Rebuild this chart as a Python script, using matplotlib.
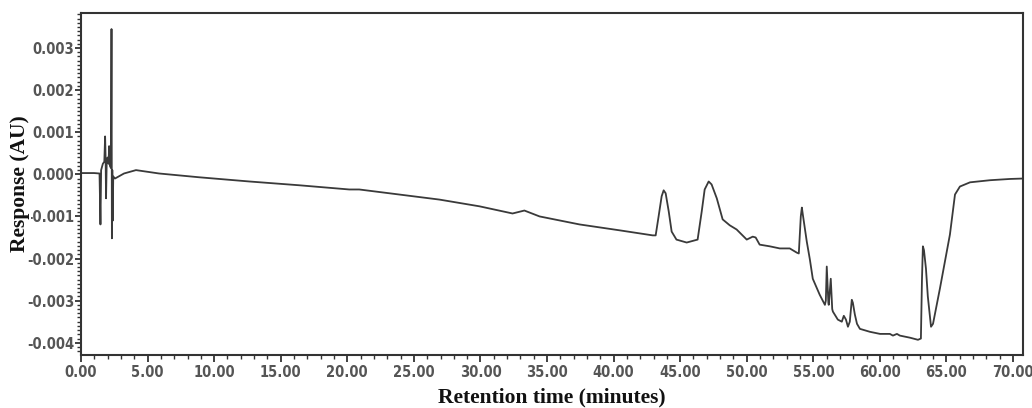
import matplotlib
matplotlib.use("Agg")
import matplotlib.pyplot as plt
from matplotlib.ticker import MultipleLocator, FormatStrFormatter

plt.rcParams["axes.unicode_minus"] = False

# Chromatogram trace: retention time (min) and detector response (x 1e-3 AU)
time_min = [
    0.00, 0.98, 1.39, 1.46, 1.51, 1.64, 1.75, 1.81, 1.85, 1.88, 1.93, 2.00,
    2.07, 2.11, 2.17, 2.25, 2.29, 2.32, 2.35, 2.38, 2.42, 2.55, 3.23, 4.13,
    5.86, 8.87, 12.64, 16.39, 20.15, 20.90, 23.91, 26.92, 29.93, 32.41, 33.30,
    34.44, 37.44, 40.45, 42.94, 43.16, 43.38, 43.61, 43.76, 43.91, 44.14,
    44.36, 44.72, 45.49, 46.31, 46.62, 46.84, 47.14, 47.36, 47.75, 48.19,
    48.72, 49.24, 50.00, 50.45, 50.67, 50.97, 51.73, 52.48, 53.23, 53.76,
    53.91, 54.06, 54.14, 54.21, 54.51, 54.74, 54.96, 55.48, 55.87, 55.94,
    56.01, 56.13, 56.16, 56.31, 56.42, 56.47, 56.84, 57.14, 57.29, 57.45,
    57.60, 57.74, 57.89, 57.97, 58.12, 58.28, 58.50, 59.25, 60.01, 60.75,
    60.98, 61.28, 61.50, 62.26, 62.86, 63.08, 63.16, 63.23, 63.31, 63.46,
    63.60, 63.84, 63.99, 64.51, 65.26, 65.64, 66.01, 66.77, 68.27, 69.78,
    70.75,
]
response_milli = [
    0.03, 0.03, 0.02, -1.19, 0.10, 0.25, 0.30, 0.90, 0.35, -0.57, 0.30, 0.40,
    0.25, 0.67, 0.20, 0.15, 3.45, -1.52, 0.10, -1.10, -0.05, -0.10, 0.02, 0.10,
    0.02, -0.07, -0.17, -0.26, -0.36, -0.36, -0.48, -0.60, -0.76, -0.93, -0.86,
    -1.00, -1.19, -1.33, -1.45, -1.45, -1.00, -0.52, -0.38, -0.45, -0.88,
    -1.36, -1.55, -1.62, -1.55, -0.88, -0.36, -0.17, -0.24, -0.57, -1.07,
    -1.21, -1.31, -1.55, -1.48, -1.50, -1.67, -1.71, -1.76, -1.76, -1.86,
    -1.88, -1.00, -0.79, -0.95, -1.60, -2.02, -2.48, -2.86, -3.10, -3.00,
    -2.19, -3.05, -3.10, -2.48, -3.20, -3.26, -3.45, -3.50, -3.36, -3.45,
    -3.62, -3.50, -2.98, -3.05, -3.33, -3.55, -3.67, -3.74, -3.79, -3.79,
    -3.83, -3.79, -3.83, -3.88, -3.93, -3.90, -2.50, -1.71, -1.80, -2.24,
    -2.90, -3.62, -3.55, -2.71, -1.43, -0.48, -0.29, -0.19, -0.14, -0.11,
    -0.10,
]
response_au = [v * 1e-3 for v in response_milli]

tick_font = ["Liberation Sans Narrow", "DejaVu Sans"]
label_font = ["Liberation Serif", "DejaVu Serif"]
tick_color = "#555555"

fig = plt.figure(figsize=(10.32, 4.08), dpi=100)
ax = fig.add_axes([0.0785, 0.130, 0.9128, 0.838])

ax.plot(time_min, response_au, color="#3a3a3a", linewidth=1.3)

ax.set_xlim(0, 70.75)
ax.set_ylim(-0.00429, 0.00383)

ax.xaxis.set_major_locator(MultipleLocator(5))
ax.xaxis.set_minor_locator(MultipleLocator(1))
ax.xaxis.set_major_formatter(FormatStrFormatter("%.2f"))
ax.yaxis.set_major_locator(MultipleLocator(0.001))
ax.yaxis.set_minor_locator(MultipleLocator(0.0001))
ax.yaxis.set_major_formatter(FormatStrFormatter("%.3f"))

for spine in ax.spines.values():
    spine.set_linewidth(1.5)
    spine.set_color("#333333")

ax.tick_params(which="major", width=1.3, color="#333333", labelcolor=tick_color)
ax.tick_params(axis="x", which="major", length=5, pad=2)
ax.tick_params(axis="y", which="major", length=4, pad=1)
ax.tick_params(which="minor", length=3, width=1.0, color="#333333")

for lab in ax.get_xticklabels() + ax.get_yticklabels():
    lab.set_fontfamily(tick_font)
    lab.set_fontstretch("condensed")
    lab.set_fontsize(10.5)
    lab.set_fontweight("bold")

ax.set_xlabel("Retention time (minutes)", fontfamily=label_font,
              fontsize=15.5, fontweight="bold", color="#111111")
ax.set_ylabel("Response (AU)", fontfamily=label_font,
              fontsize=15.5, fontweight="bold", color="#111111")
ax.xaxis.set_label_coords(0.5, -0.095)
ax.yaxis.set_label_coords(-0.054, 0.5)
ax.yaxis.label.set_bbox(dict(facecolor="white", edgecolor="none", pad=1))

fig.savefig("out.png", dpi=100)
